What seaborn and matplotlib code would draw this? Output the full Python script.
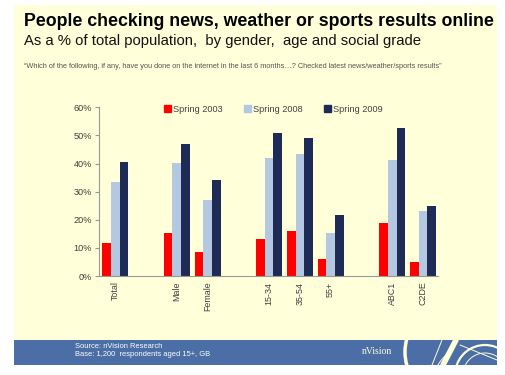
import numpy as np
import pandas as pd
import matplotlib
matplotlib.use("Agg")
import matplotlib.pyplot as plt
import seaborn as sns
from matplotlib.patches import Rectangle, Arc
from matplotlib.lines import Line2D

# ---- data ----
sections = [["Total"], ["Male", "Female"], ["15-34", "35-54", "55+"], ["ABC1", "C2DE"]]
series = ["Spring 2003", "Spring 2008", "Spring 2009"]
spring_2003 = [11.8, 15.2, 8.5, 13.0, 16.1, 6.0, 19.0, 5.1]
spring_2008 = [33.3, 40.3, 27.0, 42.0, 43.4, 15.3, 41.3, 23.0]
spring_2009 = [40.4, 46.9, 34.2, 50.9, 49.2, 21.8, 52.5, 24.9]
y_ticks = [0, 10, 20, 30, 40, 50, 60]
y_tick_labels = ["0%", "10%", "20%", "30%", "40%", "50%", "60%"]
colors = ["#FF0000", "#B4C8E1", "#1F2B57"]

# category positions: one empty slot between sections
groups, pos = [], []
p = 0
for sec in sections:
    for g in sec:
        groups.append(g)
        pos.append(p)
        p += 1
    p += 1

rows = []
for s, vals in zip(series, [spring_2003, spring_2008, spring_2009]):
    for g, x, v in zip(groups, pos, vals):
        rows.append({"group": g, "x": x, "series": s, "value": v})
df = pd.DataFrame(rows)

sns.set_theme(style="white")
plt.rcParams['font.family'] = ['Liberation Sans', 'DejaVu Sans']

W, H = 506, 375
fig = plt.figure(figsize=(W / 100, H / 100), dpi=100)
fig.patch.set_facecolor("white")

# background slide
bg = fig.add_axes([0, 0, 1, 1], zorder=0)
bg.set_xlim(0, W)
bg.set_ylim(H, 0)
bg.axis("off")
bg.add_patch(Rectangle((14, 5), 483, 335, color="#FFFFDA", lw=0))
band = Rectangle((14, 340), 483, 25, color="#4A6EA5", lw=0)
bg.add_patch(band)
cream = "#FFFFDA"
logo = [
    Arc((430, 352), 50, 70, theta1=150, theta2=210, color=cream, lw=2.5),
    Arc((470, 395), 80, 100, theta1=195, theta2=250, color=cream, lw=0.7),
    Arc((485, 375), 60, 60, theta1=190, theta2=350, color=cream, lw=1.6),
    Arc((485, 375), 44, 44, theta1=200, theta2=340, color=cream, lw=0.7),
]
for a in logo:
    bg.add_patch(a)
    a.set_clip_path(band)
for (x0, y0, x1, y1, lw) in [(443, 365, 456, 340, 4.0), (432, 365, 442, 340, 0.7),
                             (460, 345, 497, 360, 0.7)]:
    ln = Line2D([x0, x1], [y0, y1], color=cream, lw=lw)
    bg.add_line(ln)
    ln.set_clip_path(band)

bg.text(24, 21.5, "People checking news, weather or sports results online", fontsize=12.8,
        fontweight="bold", color="black", va="center", ha="left")
bg.text(24, 41, "As a % of total population,  by gender,  age and social grade", fontsize=10.7,
        color="#111111", va="center", ha="left")
bg.text(24, 67, "\u201cWhich of the following, if any, have you done on the internet in the last 6 months\u2026? "
        "Checked latest news/weather/sports results\u201d", fontsize=5.3, color="#555555",
        va="center", ha="left")
bg.text(75, 346.5, "Source: nVision Research", fontsize=5.4, color="white", va="center", ha="left")
bg.text(75, 355, "Base: 1,200  respondents aged 15+, GB", fontsize=5.4, color="white", va="center", ha="left")
bg.text(362, 352, "nVision", fontsize=7, color=cream, va="center", ha="left",
        family=["Liberation Serif", "DejaVu Serif"])

# chart
ax = fig.add_axes([99 / W, (H - 276) / H, 339.3 / W, (276 - 107.3) / H], zorder=1)
ax.patch.set_alpha(0)
sns.barplot(data=df, x="x", y="value", hue="series", hue_order=series, palette=colors,
            native_scale=True, width=0.85, linewidth=0, saturation=1, legend=False, ax=ax)
ax.set_xlim(-0.53, pos[-1] + 0.5)
ax.set_ylim(0, 60)
ax.set_yticks(y_ticks)
ax.set_yticklabels(y_tick_labels)
ax.set_xticks(pos)
ax.set_xticklabels(groups, rotation=90, va="top", ha="center")
ax.set_xlabel("")
ax.set_ylabel("")
for s in ["top", "right"]:
    ax.spines[s].set_visible(False)
for s in ["left", "bottom"]:
    ax.spines[s].set_color("#999999")
    ax.spines[s].set_linewidth(0.8)
ax.tick_params(axis="y", length=3, width=0.8, color="#999999", labelsize=6.6,
               labelcolor="#404040", pad=2, left=True)
ax.tick_params(axis="x", length=0, labelsize=6.4, labelcolor="#404040", pad=4)

handles = [Rectangle((0, 0), 1, 1, color=c) for c in colors]
fig.legend(handles, series, loc="center left", bbox_to_anchor=(164 / W, (H - 109) / H),
           ncol=3, frameon=False, fontsize=6.6, handlelength=0.75, handleheight=0.75,
           handletextpad=0.25, columnspacing=2.3, labelcolor="#404040", borderpad=0,
           borderaxespad=0)

fig.savefig("out.png", dpi=100)
